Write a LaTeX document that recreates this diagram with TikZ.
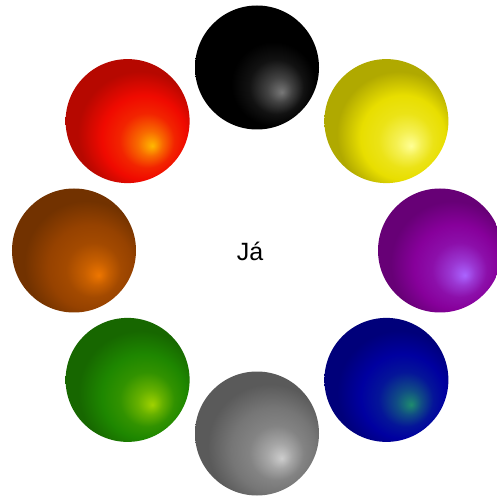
\documentclass[tikz,border=0pt]{standalone}
\usepackage{fontspec}
\setmainfont{Liberation Sans}
\usetikzlibrary{positioning}

% sphere shading, highlight low right (edge of the ball is at 25bp)
\pgfdeclareradialshading[ballhi,ballbase]{sphere}{\pgfqpoint{10bp}{-10bp}}{%
  color(0bp)=(ballhi); color(5bp)=(ballhi!55!ballbase); color(11bp)=(ballbase!85!ballhi);
  color(17bp)=(ballbase); color(25bp)=(ballbase!76!black); color(50bp)=(ballbase!76!black)}

\definecolor{blackhi}{RGB}{120,120,120}
\definecolor{yellowhi}{RGB}{255,255,150}
\definecolor{yellowbase}{RGB}{232,222,0}
\definecolor{purplehi}{RGB}{170,100,255}
\definecolor{purplebase}{RGB}{135,0,155}
\definecolor{bluehi}{RGB}{30,140,110}
\definecolor{bluebase}{RGB}{0,0,160}
\definecolor{grayhi}{RGB}{205,205,205}
\definecolor{graybase}{RGB}{118,118,118}
\definecolor{greenhi}{RGB}{160,210,0}
\definecolor{greenbase}{RGB}{30,135,0}
\definecolor{brownhi}{RGB}{238,118,0}
\definecolor{brownbase}{RGB}{150,66,0}
\definecolor{redhi}{RGB}{255,185,0}
\definecolor{redbase}{RGB}{240,10,0}

\tikzset{
    ball/.style 2 args={circle, minimum size=124pt, inner sep=0pt,
        /utils/exec={\colorlet{ballhi}{#1}\colorlet{ballbase}{#2}}, shading=sphere},
    centre/.style={font=\fontsize{25}{30}\selectfont, text=black, anchor=base}
}

\begin{document}
\begin{tikzpicture}[x=1pt, y=1pt]
    \useasboundingbox (-257,-246.5) rectangle (239,250.5);
    \node [centre] (me) at (-7,-10.5) {Já};

    % ring of balls
    \node [ball={blackhi}{black}] (black) at (90:183pt) {};
    \node [ball={yellowhi}{yellowbase}] (yellow) at (45:183pt) {};
    \node [ball={purplehi}{purplebase}] (purple) at (0:183pt) {};
    \node [ball={bluehi}{bluebase}] (blue) at (-45:183pt) {};
    \node [ball={grayhi}{graybase}] (gray) at (-90:183pt) {};
    \node [ball={greenhi}{greenbase}] (green) at (-135:183pt) {};
    \node [ball={brownhi}{brownbase}] (brown) at (180:183pt) {};
    \node [ball={redhi}{redbase}] (red) at (135:183pt) {};
\end{tikzpicture}
\end{document}
